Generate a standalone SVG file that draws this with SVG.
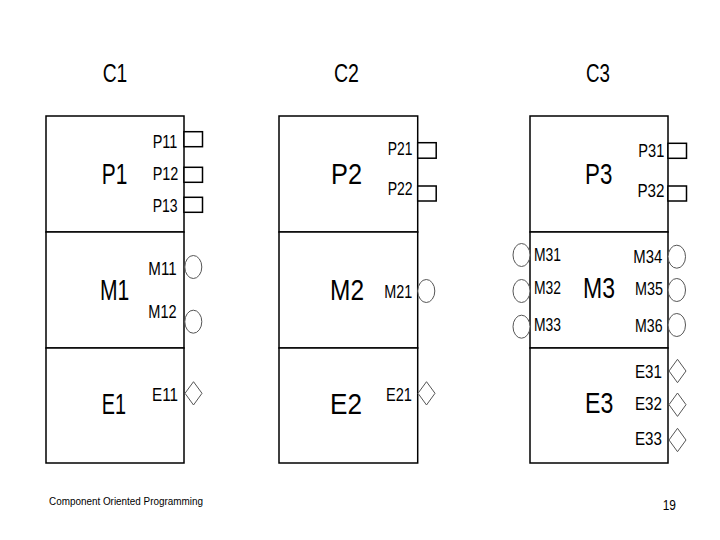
<svg xmlns="http://www.w3.org/2000/svg" width="720" height="540" viewBox="0 0 720 540">
<style>
text{font-family:"Liberation Sans",Arial,sans-serif;fill:#000}
.big{font-size:29px}
.ttl{font-size:26px}
.sm{font-size:19px}
.box{fill:#fff;stroke:#000;stroke-width:1.5}
.sq{fill:#fff;stroke:#000;stroke-width:1.5}
.port{fill:#fff;stroke:#555;stroke-width:1}
</style>
<rect width="720" height="540" fill="#fff"/>
<g id="titles">
<text class="ttl" x="102.7" y="81.7" textLength="24.6" lengthAdjust="spacingAndGlyphs">C1</text>
<text class="ttl" x="334" y="81.7" textLength="25" lengthAdjust="spacingAndGlyphs">C2</text>
<text class="ttl" x="586" y="81.7" textLength="24" lengthAdjust="spacingAndGlyphs">C3</text>
</g>
<g id="C1">
<rect class="box" x="46" y="116" width="138" height="116"/>
<rect class="box" x="46" y="232" width="138" height="116"/>
<rect class="box" x="46" y="348" width="138" height="115"/>
<text class="big" x="101.7" y="184" textLength="25.6" lengthAdjust="spacingAndGlyphs">P1</text>
<text class="big" x="100" y="300" textLength="29.3" lengthAdjust="spacingAndGlyphs">M1</text>
<text class="big" x="101.7" y="414" textLength="24.3" lengthAdjust="spacingAndGlyphs">E1</text>
<text class="sm" x="152.7" y="147.5" textLength="24.7" lengthAdjust="spacingAndGlyphs">P11</text>
<text class="sm" x="152.7" y="180" textLength="25.7" lengthAdjust="spacingAndGlyphs">P12</text>
<text class="sm" x="152.7" y="211.5" textLength="25" lengthAdjust="spacingAndGlyphs">P13</text>
<text class="sm" x="148.3" y="275" textLength="28.3" lengthAdjust="spacingAndGlyphs">M11</text>
<text class="sm" x="148.3" y="318.3" textLength="28.3" lengthAdjust="spacingAndGlyphs">M12</text>
<text class="sm" x="152" y="400.5" textLength="26" lengthAdjust="spacingAndGlyphs">E11</text>
<rect class="sq" x="184" y="131.7" width="18.5" height="15"/>
<rect class="sq" x="184" y="167.3" width="18.5" height="15"/>
<rect class="sq" x="184" y="197.3" width="18.5" height="15"/>
<ellipse class="port" cx="193.3" cy="267" rx="8.5" ry="11.5"/>
<ellipse class="port" cx="193.3" cy="321.7" rx="8.5" ry="11.5"/>
<polygon class="port" points="185,393.3 193.5,381.7 202,393.3 193.5,405"/>
</g>
<g id="C2">
<rect class="box" x="279" y="116" width="138.7" height="116"/>
<rect class="box" x="279" y="232" width="138.7" height="116"/>
<rect class="box" x="279" y="348" width="138.7" height="115"/>
<text class="big" x="331" y="184" textLength="31" lengthAdjust="spacingAndGlyphs">P2</text>
<text class="big" x="330" y="300" textLength="34" lengthAdjust="spacingAndGlyphs">M2</text>
<text class="big" x="330" y="414" textLength="32" lengthAdjust="spacingAndGlyphs">E2</text>
<text class="sm" x="387.7" y="155" textLength="24.7" lengthAdjust="spacingAndGlyphs">P21</text>
<text class="sm" x="387.7" y="195" textLength="25" lengthAdjust="spacingAndGlyphs">P22</text>
<text class="sm" x="384.3" y="298.3" textLength="28" lengthAdjust="spacingAndGlyphs">M21</text>
<text class="sm" x="386" y="400.5" textLength="26" lengthAdjust="spacingAndGlyphs">E21</text>
<rect class="sq" x="417.7" y="142.7" width="18.5" height="15.5"/>
<rect class="sq" x="417.7" y="186" width="18.5" height="15"/>
<ellipse class="port" cx="426.3" cy="291" rx="8.5" ry="11.5"/>
<polygon class="port" points="418,393.3 426.5,381.7 435,393.3 426.5,405"/>
</g>
<g id="C3">
<rect class="box" x="530" y="116" width="138" height="116"/>
<rect class="box" x="530" y="232" width="138" height="116"/>
<rect class="box" x="530" y="348" width="138" height="115"/>
<text class="big" x="585" y="184" textLength="27.3" lengthAdjust="spacingAndGlyphs">P3</text>
<text class="big" x="583" y="298.3" textLength="32" lengthAdjust="spacingAndGlyphs">M3</text>
<text class="big" x="585" y="413.3" textLength="28.3" lengthAdjust="spacingAndGlyphs">E3</text>
<text class="sm" x="638.3" y="156.7" textLength="26" lengthAdjust="spacingAndGlyphs">P31</text>
<text class="sm" x="637.5" y="197.3" textLength="27" lengthAdjust="spacingAndGlyphs">P32</text>
<text class="sm" x="534" y="260.5" textLength="27" lengthAdjust="spacingAndGlyphs">M31</text>
<text class="sm" x="534" y="293.5" textLength="27" lengthAdjust="spacingAndGlyphs">M32</text>
<text class="sm" x="534" y="330.5" textLength="27" lengthAdjust="spacingAndGlyphs">M33</text>
<text class="sm" x="633.3" y="263.3" textLength="29" lengthAdjust="spacingAndGlyphs">M34</text>
<text class="sm" x="635" y="295" textLength="28" lengthAdjust="spacingAndGlyphs">M35</text>
<text class="sm" x="635" y="331.7" textLength="27.5" lengthAdjust="spacingAndGlyphs">M36</text>
<text class="sm" x="635" y="377.5" textLength="27" lengthAdjust="spacingAndGlyphs">E31</text>
<text class="sm" x="635" y="410" textLength="27" lengthAdjust="spacingAndGlyphs">E32</text>
<text class="sm" x="635" y="445" textLength="27" lengthAdjust="spacingAndGlyphs">E33</text>
<rect class="sq" x="668" y="143.3" width="18.5" height="15"/>
<rect class="sq" x="668" y="186" width="18.5" height="15"/>
<ellipse class="port" cx="521.5" cy="255" rx="8.5" ry="11.5"/>
<ellipse class="port" cx="521.5" cy="291" rx="8.5" ry="11.5"/>
<ellipse class="port" cx="521.5" cy="326.7" rx="8.5" ry="11.5"/>
<ellipse class="port" cx="676.8" cy="256.7" rx="8.7" ry="11.5"/>
<ellipse class="port" cx="676.8" cy="290" rx="8.7" ry="11.5"/>
<ellipse class="port" cx="676.8" cy="325" rx="8.7" ry="11.5"/>
<polygon class="port" points="669,371 677.5,359.3 686,371 677.5,382.7"/>
<polygon class="port" points="669,404.7 677.5,393 686,404.7 677.5,416.4"/>
<polygon class="port" points="669,440 677.5,428.3 686,440 677.5,451.7"/>
</g>
<g id="connectors"></g>
<g id="footer">
<text x="49" y="505" font-size="10" textLength="154" lengthAdjust="spacingAndGlyphs">Component Oriented Programming</text>
<text x="662.7" y="510" font-size="15" textLength="13.3" lengthAdjust="spacingAndGlyphs">19</text>
</g>
</svg>
